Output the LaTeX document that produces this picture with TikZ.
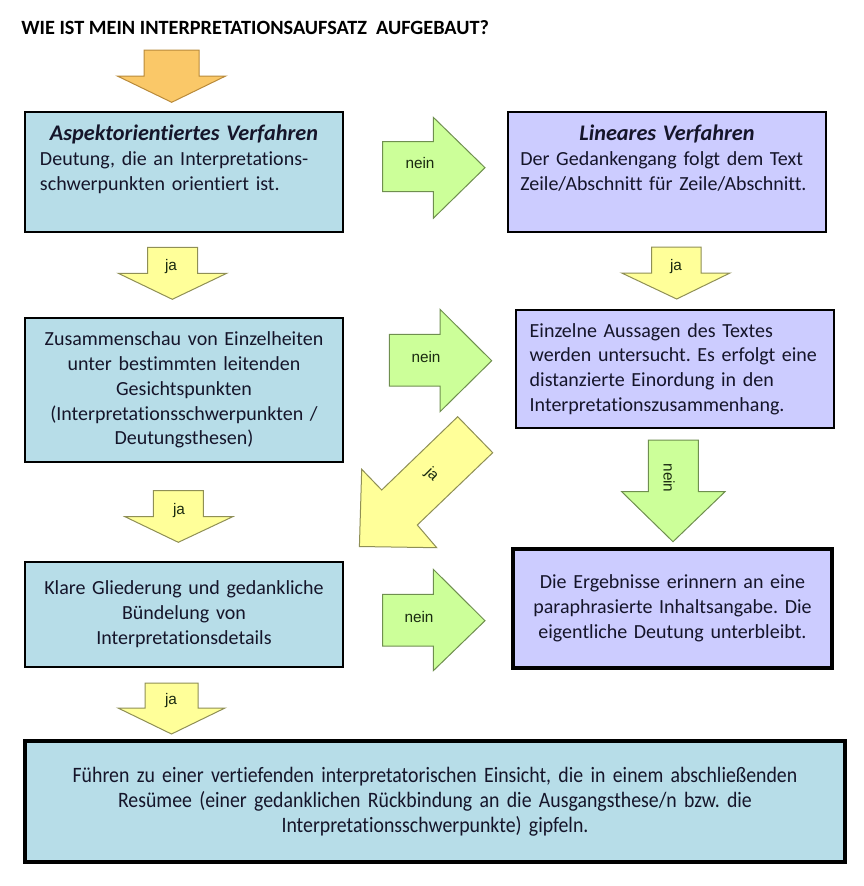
\documentclass[tikz,border=0pt]{standalone}
\usepackage{fontspec}
\setmainfont{Carlito}[Ligatures=NoCommon]
\newfontfamily\labelfont{Liberation Sans}
\newfontfamily\condfont{Carlito}[FakeStretch=0.9,Ligatures=NoCommon]
\usepackage{xcolor}
\usetikzlibrary{positioning}
\definecolor{boxblue}{HTML}{B7DDE8}
\definecolor{boxlilac}{HTML}{CCCCFF}
\definecolor{arrgreen}{HTML}{CCFF99}
\definecolor{arrgreenline}{HTML}{6F8F4F}
\definecolor{arryellow}{HTML}{FFFF99}
\definecolor{arryellowline}{HTML}{8F8F55}
\definecolor{arrorange}{HTML}{FAC868}
\definecolor{arrorangeline}{HTML}{B98A3A}
\definecolor{inktext}{HTML}{15152A}
\definecolor{lbltext}{HTML}{1A2A10}
\frenchspacing

\tikzset{
  box/.style={draw=black, line width=1.5pt, minimum width=238.5pt, text=inktext,
    font=\fontsize{15}{18.6}\selectfont, inner sep=0pt},
  bluebox/.style={box, fill=boxblue},
  lilacbox/.style={box, fill=boxlilac},
  heavy/.style={line width=3pt},
  yellowarr/.style={fill=arryellow, draw=arryellowline, line width=0.75pt},
  greenarr/.style={fill=arrgreen, draw=arrgreenline, line width=0.75pt},
  orangearr/.style={fill=arrorange, draw=arrorangeline, line width=0.75pt},
  arrlbl/.style={font=\labelfont\fontsize{11.5}{13}\selectfont, text=lbltext, inner sep=0pt}
}
\newcommand{\boxhead}[1]{{\centering\bfseries\itshape\fontsize{16.7}{18.6}\selectfont #1\par}}

\begin{document}
\begin{tikzpicture}[x=0.75pt,y=-0.75pt]
  \useasboundingbox (0,0) rectangle (864,886);

  \node[anchor=west, inner sep=0pt, font=\bfseries\fontsize{15.2}{17}\selectfont] (title) at (21,28)
    {WIE IST MEIN INTERPRETATIONSAUFSATZ\ \ AUFGEBAUT?};

  % left column
  \node[bluebox, minimum height=90pt, text width=216pt, text height=12pt, text depth=59pt] (aspekt) at (184,172)
    {\boxhead{Aspektorientiertes Verfahren}
     Deutung, die an Interpretations-\\schwerpunkten orientiert ist.};
  \node[bluebox, minimum height=108pt, text width=225pt, align=center] (schau) at (184,390)
    {Zusammenschau von Einzelheiten\\unter bestimmten leitenden\\Gesichtspunkten\\(Interpretationsschwerpunkten /\\Deutungsthesen)};
  \node[bluebox, minimum height=78.75pt, text width=225pt, align=center] (gliederung) at (184,614)
    {Klare Gliederung und gedankliche\\B\"undelung von\\Interpretationsdetails};

  % right column
  \node[lilacbox, minimum height=90pt, text width=220pt, text height=12pt, text depth=59pt] (linear) at (667,172)
    {\boxhead{Lineares Verfahren}
     Der Gedankengang folgt dem Text\\Zeile/Abschnitt f\"ur Zeile/Abschnitt.};
  \node[lilacbox, minimum height=88.5pt, text width=218pt, align=left] (aussagen) at (675,369)
    {Einzelne Aussagen des Textes\\werden untersucht. Es erfolgt eine\\distanzierte Einordung in den\\Interpretationszusammenhang.};
  \node[lilacbox, heavy, minimum width=239.25pt, minimum height=89.25pt, text width=225pt, align=center] (ergebnis) at (672.5,608.5)
    {Die Ergebnisse erinnern an eine\\paraphrasierte Inhaltsangabe. Die\\eigentliche Deutung unterbleibt.};

  % result
  \node[bluebox, heavy, minimum width=615pt, minimum height=90.75pt, text width=600pt, align=center,
    font=\condfont\fontsize{16.5}{18.6}\selectfont] (resuemee) at (435,801.5)
    {F\"uhren zu einer vertiefenden interpretatorischen Einsicht, die in einem abschlie\ss enden\\
     Res\"umee (einer gedanklichen R\"uckbindung an die Ausgangsthese/n bzw. die\\
     Interpretationsschwerpunkte) gipfeln.};

  % block arrows
  \draw[orangearr] (144,50) -- (199,50) -- (199,76) -- (225.7,76) -- (171.7,102.3) -- (117.3,76) -- (144,76) -- cycle;

  \draw[yellowarr] (147.7,247.3) -- (197.7,247.3) -- (197.7,273.3) -- (226.7,273.3) -- (172.3,299.3) -- (118.3,273.3) -- (147.7,273.3) -- cycle;
  \node[arrlbl] (ja1) at (171,267) {ja};
  \draw[yellowarr] (651.7,247) -- (701,247) -- (701,273) -- (730,273) -- (676.7,299) -- (621.7,273) -- (651.7,273) -- cycle;
  \node[arrlbl] (ja2) at (676,267) {ja};
  \draw[yellowarr] (153.3,490.7) -- (203.3,490.7) -- (203.3,516.7) -- (232.7,516.7) -- (178.3,542.3) -- (125,516.7) -- (153.3,516.7) -- cycle;
  \node[arrlbl] (ja3) at (179,511) {ja};
  \draw[yellowarr] (145,683) -- (198,683) -- (198,708) -- (225,708) -- (171.5,734) -- (118,708) -- (145,708) -- cycle;
  \node[arrlbl] (ja4) at (171,701) {ja};

  \draw[yellowarr] (457.7,416.7) -- (492.7,452.7) -- (417.3,525) -- (436.7,547.7) -- (359.4,546.5) -- (361.7,469.3) -- (381.7,490) -- cycle;
  \node[arrlbl, rotate=-45] (ja5) at (431.7,475) {ja};

  \draw[greenarr] (382.7,141.7) -- (433.3,141.7) -- (433.3,117.3) -- (485,167.7) -- (433.3,218.3) -- (433.3,191.7) -- (382.7,191.7) -- cycle;
  \node[arrlbl] (nein1) at (420,163) {nein};
  \draw[greenarr] (389.3,334.3) -- (440,334.3) -- (440,309.3) -- (491.7,360.7) -- (440,411.7) -- (440,386) -- (389.3,386) -- cycle;
  \node[arrlbl] (nein2) at (426,357) {nein};
  \draw[greenarr] (382.7,594.3) -- (433.3,594.3) -- (433.3,569.3) -- (485,620.7) -- (433.3,670.7) -- (433.3,646) -- (382.7,646) -- cycle;
  \node[arrlbl] (nein3) at (419,617) {nein};
  \draw[greenarr] (648.3,440) -- (698.3,440) -- (698.3,491.7) -- (725,491.7) -- (673,541.7) -- (621.7,491.7) -- (648.3,491.7) -- cycle;
  \node[arrlbl, rotate=-90] (nein4) at (669,478) {nein};
\end{tikzpicture}
\end{document}
